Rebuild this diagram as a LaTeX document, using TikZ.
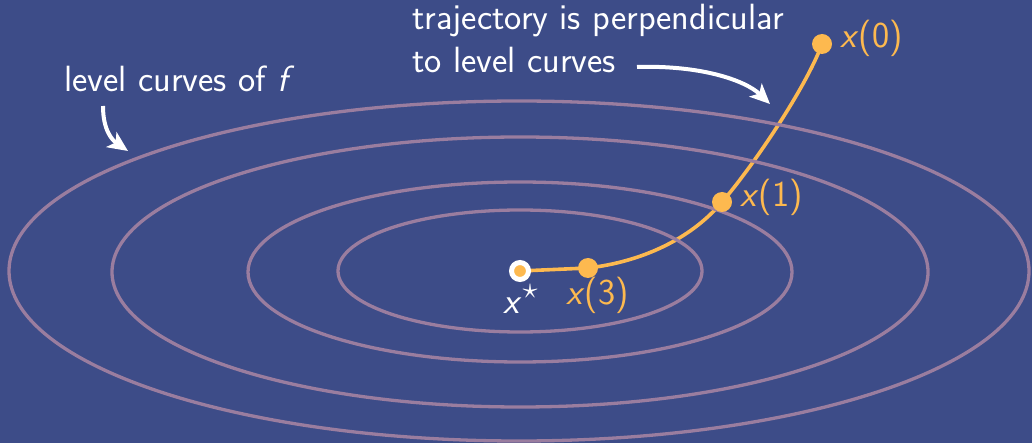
\documentclass[tikz,border=0pt]{standalone}
\usetikzlibrary{arrows.meta,backgrounds}
\definecolor{bgblue}{HTML}{3D4C88}
\definecolor{levelc}{HTML}{9A7D9F}
\definecolor{traj}{HTML}{FDB94F}
\begin{document}
\begin{tikzpicture}[x=1pt,y=-1pt,
  lvl/.style={draw=levelc,line width=3.3pt},
  dotnode/.style={circle,fill=traj,inner sep=0pt,minimum size=20pt},
  lbl/.style={inner sep=0pt,anchor=base west,font=\sffamily\fontsize{36.5}{45}\selectfont},
  note/.style={lbl,text=white},
  olbl/.style={lbl,text=traj},
  pointer/.style={draw=white,line width=4pt,-{Stealth[length=20pt,width=18pt,inset=5pt]}},
  trajline/.style={draw=traj,line width=3.6pt}]
\useasboundingbox (0,0) rectangle (1032,443);
% level curves
\draw[lvl] (519,271) ellipse [x radius=510, y radius=170];
\draw[lvl] (520,272) ellipse [x radius=408, y radius=135];
\draw[lvl] (520,272) ellipse [x radius=272, y radius=90];
\draw[lvl] (520,271) ellipse [x radius=182, y radius=61];
% points
\node[circle,draw=white,fill=traj,line width=5pt,inner sep=0pt,minimum size=17pt] (xs) at (520,271) {};
\node[dotnode] (x3) at (588,268) {};
\node[dotnode] (x1) at (722,202) {};
\node[dotnode] (x0) at (822,44) {};
\begin{pgfonlayer}{background}
\fill[bgblue] (0,0) rectangle (1032,443);
\draw[trajline] (xs.center) -- (x3.center) .. controls (640,262) and (690,240) .. (x1.center) .. controls (750,170) and (805,90) .. (x0.center);
\end{pgfonlayer}
% labels
\node[olbl] (l0) at (840,48) {\textsl{x}(0)};
\node[olbl] (l1) at (740,207) {\textsl{x}(1)};
\node[olbl] (l3) at (566,305) {\textsl{x}(3)};
\node[note] (ls) at (503,313) {\textsl{x}\hspace{1pt}\raisebox{14pt}{\scalebox{3}{\normalsize$\star$}}};
\node[note] (t1) at (412,30) {trajectory is perpendicular};
\node[note] (t2) at (412,73) {to level curves};
\node[note] (t3) at (64,92) {level curves of \textsl{f}};
\coordinate (a1) at (128,151);
\coordinate (a2) at (770,104);
\coordinate (s1) at (103,106);
\coordinate (s2) at (637,67);
\draw[pointer] (s1) .. controls (103,130) and (112,140) .. (a1);
\draw[pointer] (s2) .. controls (700,65) and (745,80) .. (a2);
\end{tikzpicture}
\end{document}
